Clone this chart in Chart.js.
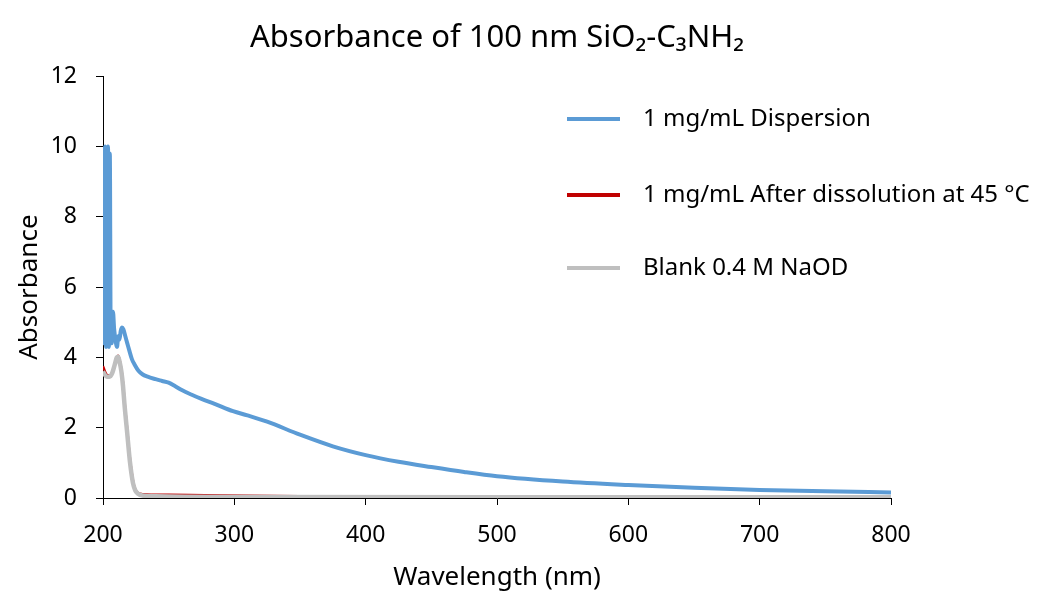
<!DOCTYPE html>
<html>
<head>
<meta charset="utf-8">
<script src="https://cdn.jsdelivr.net/npm/chart.js@4.4.0/dist/chart.umd.min.js"></script>
<style>
  body { margin: 0; background: #fff; }
</style>
</head>
<body>
<canvas id="absorbance-chart" width="1037" height="595"></canvas>
<script>
const xTicks = [200, 300, 400, 500, 600, 700, 800];
const yTicks = [0, 2, 4, 6, 8, 10, 12];

const seriesLabels = ['1 mg/mL Dispersion', '1 mg/mL After dissolution at 45 \u00b0C', 'Blank 0.4 M NaOD'];

const dispersionNm = [200, 200.7, 201.5, 202.3, 203.0, 203.8, 204.5, 205.2, 205.9, 206.6, 207.6, 208.5, 209.5, 210.7, 211.6, 212.5, 213.5, 214.5, 215.5, 217, 218.5, 220, 222, 224, 227, 230, 234, 240, 245, 250, 255, 260, 268, 275, 285, 299, 310, 325, 350, 375, 400, 425, 450, 475, 500, 550, 600, 650, 700, 750, 800];
const dispersionAbs = [9.95, 4.4, 10.0, 4.3, 4.6, 10.0, 4.3, 9.8, 4.4, 4.4, 5.3, 4.8, 4.5, 4.3, 4.6, 4.5, 4.75, 4.85, 4.8, 4.6, 4.4, 4.2, 3.95, 3.8, 3.62, 3.52, 3.45, 3.38, 3.33, 3.28, 3.18, 3.07, 2.93, 2.82, 2.68, 2.47, 2.35, 2.17, 1.8, 1.47, 1.22, 1.03, 0.88, 0.74, 0.62, 0.47, 0.37, 0.29, 0.23, 0.19, 0.16];

const dissolvedNm = [200, 201.5, 203, 205, 207, 209, 210.5, 211.5, 212.5, 214, 215.2, 216.5, 218.3, 220.6, 222.8, 224.5, 226.7, 230, 250, 290, 350, 500, 800];
const dissolvedAbs = [3.75, 3.6, 3.5, 3.48, 3.58, 3.82, 4.02, 4.05, 3.95, 3.65, 3.3, 2.7, 2.0, 1.1, 0.5, 0.25, 0.14, 0.11, 0.09, 0.07, 0.05, 0.04, 0.03];

const blankNm = [200, 201.5, 203, 205, 207, 209, 210.5, 211.5, 212.5, 214, 215.2, 216.5, 218.3, 220.6, 222.8, 224.5, 226.7, 230, 240, 300, 500, 800];
const blankAbs = [3.6, 3.5, 3.45, 3.45, 3.55, 3.8, 4.0, 4.02, 3.9, 3.6, 3.2, 2.6, 1.9, 1.0, 0.43, 0.22, 0.12, 0.07, 0.05, 0.03, 0.02, 0.02];

const colors = ['#5B9BD5', '#C00000', '#BFBFBF'];
const FONT = "'Noto Sans', sans-serif";

function toPoints(xs, ys) {
  return xs.map((x, i) => ({ x: x, y: ys[i] }));
}

// legend drawn inside the plot, like the original
const sideLegend = {
  id: 'sideLegend',
  afterDraw(chart) {
    const ctx = chart.ctx;
    const rows = [119, 195, 268];
    ctx.save();
    ctx.font = '24px ' + FONT;
    ctx.textBaseline = 'middle';
    ctx.fillStyle = '#000';
    seriesLabels.forEach((label, i) => {
      ctx.strokeStyle = colors[i];
      ctx.lineWidth = 4;
      ctx.beginPath();
      ctx.moveTo(567, rows[i]);
      ctx.lineTo(620, rows[i]);
      ctx.stroke();
      ctx.fillText(label, 643, rows[i]);
    });
    ctx.restore();
  }
};

new Chart(document.getElementById('absorbance-chart'), {
  type: 'line',
  data: {
    datasets: [
      {
        label: seriesLabels[0],
        data: toPoints(dispersionNm, dispersionAbs),
        borderColor: colors[0],
        borderWidth: 4,
        order: 0,
      },
      {
        label: seriesLabels[1],
        data: toPoints(dissolvedNm, dissolvedAbs),
        borderColor: colors[1],
        borderWidth: 2.5,
        order: 2,
      },
      {
        label: seriesLabels[2],
        data: toPoints(blankNm, blankAbs),
        borderColor: colors[2],
        borderWidth: 4.5,
        order: 1,
      },
    ],
  },
  options: {
    responsive: false,
    animation: false,
    elements: {
      point: { radius: 0 },
      line: { cubicInterpolationMode: 'monotone', fill: false },
    },
    layout: { padding: { left: 0, right: 146, top: 0, bottom: 0 } },
    plugins: {
      legend: { display: false },
      tooltip: { enabled: false },
      title: {
        display: true,
        fullSize: false,
        text: 'Absorbance of 100 nm SiO\u2082-C\u2083NH\u2082',
        color: '#000',
        font: { family: FONT, size: 31, weight: 'normal' },
        padding: { top: 20, bottom: 19 },
      },
    },
    scales: {
      x: {
        type: 'linear',
        min: 200,
        max: 800,
        afterBuildTicks: axis => { axis.ticks = xTicks.map(v => ({ value: v })); },
        afterFit: axis => { axis.height = 97; },
        ticks: { color: '#000', padding: 17, font: { family: FONT, size: 23 } },
        grid: { drawOnChartArea: false, tickLength: 7, color: '#000' },
        border: { color: '#000', width: 1 },
        title: {
          display: true,
          text: 'Wavelength (nm)',
          color: '#000',
          font: { family: FONT, size: 26 },
          padding: { top: 0, bottom: 2 },
        },
      },
      y: {
        min: 0,
        max: 12,
        afterBuildTicks: axis => { axis.ticks = yTicks.map(v => ({ value: v })); },
        afterFit: axis => { axis.width = 103; },
        ticks: { color: '#000', padding: 19, font: { family: FONT, size: 23 } },
        grid: { drawOnChartArea: false, tickLength: 7, color: '#000' },
        border: { color: '#000', width: 1 },
        title: {
          display: true,
          text: 'Absorbance',
          color: '#000',
          font: { family: FONT, size: 26 },
          padding: { top: 14, bottom: 0 },
        },
      },
    },
  },
  plugins: [sideLegend],
});
</script>
</body>
</html>
